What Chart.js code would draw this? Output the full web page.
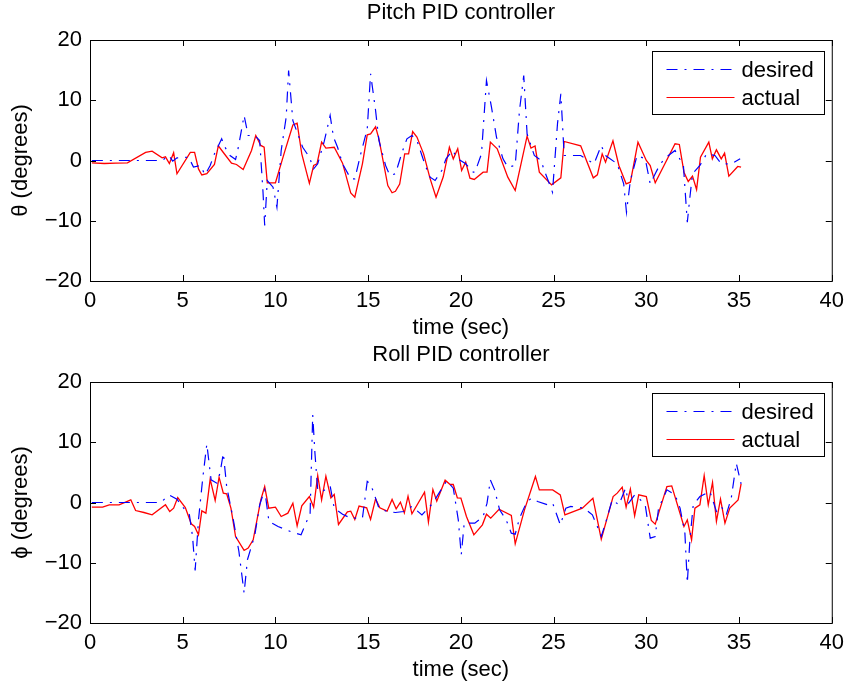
<!DOCTYPE html>
<html>
<head>
<meta charset="utf-8">
<script src="https://cdn.jsdelivr.net/npm/chart.js@4.4.1/dist/chart.umd.min.js"></script>
<style>
body{margin:0;background:#fff;}
.box{position:relative;width:851px;}
#wrapTop{height:342px;}
#wrapBottom{height:343px;}
</style>
</head>
<body>
<div class="box" id="wrapTop"><canvas id="pitchChart"></canvas></div>
<div class="box" id="wrapBottom"><canvas id="rollChart"></canvas></div>
<script>
// axis ticks
const xTicks=[0,5,10,15,20,25,30,35,40];
const yTicks=[-20,-10,0,10,20];

// pitch, desired
const pitchDesT=[0.1,0.77,3.53,3.89,4.25,4.46,4.69,5.32,5.58,5.94,6.21,6.48,6.71,7.1,7.28,7.55,7.85,8.0,8.31,8.53,8.89,9.15,9.33,9.42,9.56,9.87,10.08,10.31,10.58,10.71,10.94,11.47,11.83,12.06,12.28,12.63,12.95,13.13,13.35,13.62,14.06,14.28,14.6,14.95,15.13,15.4,15.58,15.94,16.17,16.47,16.83,17.09,17.36,17.63,17.9,18.08,18.34,18.61,18.97,19.2,19.56,19.83,20.26,20.67,20.76,21.11,21.38,21.65,21.92,22.27,22.53,22.93,23.16,23.39,23.57,23.96,24.32,24.5,24.94,25.21,25.39,25.57,26.46,27.18,27.57,27.8,28.43,28.78,28.93,29.14,29.5,29.94,30.21,30.48,30.75,31.19,31.55,32.0,32.21,32.35,32.49,32.89,33.25,33.7,34.04,34.58,35.06];
const pitchDesV=[0,0,0,0,0.83,-0.1,0.44,0.55,-1.1,-0.83,-2.38,-0.83,1.1,3.6,2.2,0.83,0.17,2.2,7.47,4.15,4.15,3.32,-5.26,-10.8,-3.32,-4.43,-7.75,1.66,7.2,14.95,6.6,2.2,0.55,-1.38,-0.55,3.16,7.47,3.88,2.2,-0.55,-3.04,-3.04,1.1,5.2,14.4,8.3,3.32,-0.83,-2.49,-2.21,1.38,3.6,4.15,3.32,0.83,-0.83,-2.77,-3.32,-1.66,0.28,1.66,0.28,-0.55,-1.94,-1.94,1.1,13.29,8.86,3.88,0.28,-1.1,-0.83,8.3,14.1,4.43,0.83,0,-1.66,-5.26,6.1,11.07,0.83,0.83,-0.55,2.49,0.83,-0.55,-3.87,-8.58,-3.32,0.83,0.28,-3.87,-2.21,-0.55,0.83,1.66,-0.83,-10.25,-6.1,-2.21,-0.83,1.1,0.83,-0.55,-0.55,0.28];

// pitch, actual
const pitchActT=[0.1,0.77,1.39,2.02,3.0,3.35,3.89,4.07,4.28,4.51,4.69,5.41,5.64,5.85,6.03,6.3,6.71,6.92,7.19,7.63,7.9,8.26,8.71,8.94,9.21,9.39,9.56,10.0,10.49,10.94,11.17,11.42,11.83,12.06,12.24,12.49,12.72,13.17,13.62,14.06,14.28,14.69,14.95,15.13,15.4,15.58,16.06,16.29,16.47,16.7,16.97,17.18,17.4,17.63,17.99,18.34,18.66,19.05,19.38,19.59,19.83,20.04,20.26,20.49,20.72,21.2,21.41,21.59,21.96,22.53,22.93,23.57,23.78,24.0,24.23,24.89,25.39,25.57,26.46,27.14,27.36,27.62,27.8,28.2,28.52,28.91,29.14,29.55,30.0,30.21,30.48,31.55,31.78,32.03,32.26,32.49,32.71,32.92,33.37,33.56,33.78,34.04,34.22,34.45,34.93,35.11];
const pitchActV=[-0.4,-0.5,-0.44,-0.4,1.33,1.55,0.44,0.6,-0.5,1.3,-2.2,1.36,1.36,-1.4,-2.4,-2.2,-0.66,2.44,1.33,-0.44,-0.66,-1.5,1.66,4.15,2.5,2.2,-3.7,-3.7,1.4,5.9,6.2,1.1,-3.8,-0.83,-0.55,3.05,2.05,2.2,-0.44,-5.4,-6.1,-0.55,4.27,4.4,5.6,3.6,-4.15,-5.35,-5.1,-3.9,1.1,1.1,4.8,3.9,1.1,-3.0,-6.1,-2.7,2.2,0.27,1.94,-1.66,-0.28,-2.93,-3.15,-1.94,-1.94,3.05,1.94,-2.76,-4.98,4.04,2.05,2.4,-1.94,-4.04,-2.88,3.16,2.44,-2.88,-2.38,1.1,-0.28,3.27,-0.83,-3.87,-3.6,3.05,0,-0.83,-3.71,2.77,2.66,-1.94,-3.49,-2.6,-4.82,0.55,3.05,0.28,1.77,0.28,1.22,-2.6,-0.99,-1.1];

// roll, desired
const rollDesT=[0.1,3.8,4.28,4.69,5.0,5.36,5.53,5.67,5.85,6.08,6.3,6.53,6.84,7.01,7.19,7.37,7.73,8.03,8.31,8.49,8.89,9.15,9.42,9.65,10.14,10.94,11.38,11.87,12.01,12.13,12.28,12.54,12.95,13.17,13.62,14.06,14.69,14.95,15.13,15.31,15.58,16.02,16.47,16.92,17.36,17.9,18.49,18.76,19.24,19.59,19.86,20.02,20.18,20.75,21.2,21.41,21.59,21.82,22.09,22.44,22.72,22.93,23.16,23.52,23.79,24.14,24.68,24.95,25.36,25.66,25.93,26.64,27.09,27.36,27.57,27.8,28.16,28.52,28.88,29.05,29.37,29.59,29.94,30.21,30.48,30.66,31.11,31.55,31.82,32.08,32.21,32.35,32.53,32.89,33.25,33.43,33.78,34.04,34.31,34.58,34.85,35.11];
const rollDesV=[0,0,1.22,0.55,-0.77,-2.05,-5.64,-11.28,-2.87,4.04,9.7,3.76,3.21,4.87,8.19,2.65,-2.87,-8.13,-15.03,-9.5,-5.36,-0.39,2.1,-3.15,-3.98,-4.98,-5.36,-1.77,14.54,8.19,2.1,1.83,2.76,-0.94,-1.94,-2.6,-2.6,3.49,3.04,1.55,-0.94,-1.49,-1.66,-1.49,-0.66,-2.05,-0.11,1.27,3.6,2.38,-2.87,-8.68,-3.43,-3.43,-2.32,-0.11,3.76,2.1,-1.22,-2.87,-5.09,-5.26,-2.6,-0.11,0.72,0.17,-0.39,-0.11,-3.71,-0.94,-0.66,-0.94,-2.05,-3.98,-5.64,-3.43,0.44,-0.39,2.38,-0.11,1.27,0.72,-0.39,-5.92,-5.64,-0.94,2.1,1.27,-0.94,-5.09,-13.38,-6.19,-0.39,0.99,1.55,1.83,-1.49,-0.66,-2.05,0.72,6.52,3.1];

// roll, actual
const rollActT=[0.1,0.68,1.04,1.57,2.2,2.46,2.91,3.35,4.07,4.3,4.51,4.73,5.14,5.46,5.64,5.85,6.03,6.25,6.48,6.75,6.96,7.19,7.37,7.6,7.85,8.31,8.53,8.8,9.21,9.42,9.64,10.0,10.31,10.67,10.94,11.17,11.42,11.83,12.06,12.28,12.49,12.72,12.99,13.17,13.4,13.88,14.06,14.28,14.51,14.92,15.13,15.4,15.63,16.02,16.29,16.51,16.74,16.95,17.15,17.36,18.04,18.25,18.49,18.7,19.15,19.42,19.59,19.81,20.0,20.3,20.7,21.16,21.38,21.61,22.06,22.72,22.93,23.43,24.02,24.23,24.95,25.36,25.61,26.55,27.12,27.57,28.21,28.43,28.7,28.91,29.14,29.37,29.59,30.0,30.27,30.48,31.11,31.37,32.03,32.21,32.44,32.62,32.89,33.12,33.34,33.57,33.78,34.0,34.24,34.5,34.95,35.11];
const rollActV=[-0.77,-0.77,-0.38,-0.38,0.44,-1.33,-1.66,-2.05,-0.38,-1.49,-0.94,0.83,-0.83,-3.54,-3.98,-5.36,-1.38,-1.77,3.88,0.33,4.2,1.55,1.44,-0.94,-5.64,-7.96,-7.57,-6.19,0.44,2.65,-0.94,-0.77,-2.32,-1.77,-0.11,-3.87,-0.55,1.0,-0.77,4.48,0.44,4.37,0.77,1.33,-3.65,-1.55,-1.44,-2.82,-0.6,-0.88,-2.82,0.6,-0.88,-1.44,0.5,-1.05,0.06,-1.72,1.05,-1.88,1.72,-3.26,2.16,0.22,3.71,2.99,2.99,0.77,0.72,-2.32,-5.37,-3.71,-1.94,-2.6,-1.11,-2.16,-6.86,-1.22,4.31,2.1,2.1,1.27,-2.05,-0.94,0.72,-6.08,0.99,1.55,2.54,-0.77,2.21,-2.21,1.27,0.99,-2.99,-3.59,2.65,2.76,-3.98,-2.88,-6.19,-0.94,-0.38,4.48,-0.38,3.32,-3.15,0.55,-3.43,-0.94,0.44,3.1];

const FONT='"Liberation Sans", Arial, Helvetica, sans-serif';
const PLOT_LEFT=90, PLOT_RIGHT=836, PLOT_BOTTOM=281;

function pts(t,v){return t.map((x,i)=>({x:x,y:v[i]}));}

// frame, inward ticks on all four sides, legend inside the plot
const framePlugin={
  id:'frame',
  afterDraw(chart){
    const ctx=chart.ctx, a=chart.chartArea, xs=chart.scales.x, ys=chart.scales.y;
    ctx.save();
    ctx.strokeStyle='#000';ctx.lineWidth=1;
    ctx.strokeRect(a.left+0.5,a.top+0.5,a.right-a.left,a.bottom-a.top);
    ctx.beginPath();
    xTicks.forEach(v=>{const p=Math.round(xs.getPixelForValue(v))+0.5;
      ctx.moveTo(p,a.bottom);ctx.lineTo(p,a.bottom-6);ctx.moveTo(p,a.top);ctx.lineTo(p,a.top+6);});
    yTicks.forEach(v=>{const p=Math.round(ys.getPixelForValue(v))+0.5;
      ctx.moveTo(a.left,p);ctx.lineTo(a.left+6,p);ctx.moveTo(a.right,p);ctx.lineTo(a.right-6,p);});
    ctx.stroke();
    // legend
    const lx=652.5, ly=51.5, lw=172, lh=63;
    ctx.fillStyle='#fff';ctx.fillRect(lx,ly,lw,lh);
    ctx.strokeRect(lx,ly,lw,lh);
    ctx.font='22px '+FONT;ctx.textBaseline='alphabetic';ctx.textAlign='left';
    chart.data.datasets.forEach((ds,i)=>{
      const yy=ly+18+i*28;
      ctx.beginPath();ctx.strokeStyle=ds.borderColor;ctx.lineWidth=1;
      ctx.setLineDash(ds.borderDash||[]);
      ctx.moveTo(lx+14,yy);ctx.lineTo(lx+82,yy);ctx.stroke();
      ctx.setLineDash([]);
      ctx.fillStyle='#000';
      ctx.fillText(ds.label,lx+89,yy+7.5);
    });
    ctx.restore();
  }
};

function makeChart(id,title,yLabel,dT,dV,aT,aV,axisH){
  return new Chart(document.getElementById(id),{
    type:'line',
    data:{datasets:[
      {label:'desired',data:pts(dT,dV),borderColor:'#0000ff',borderWidth:1.2,borderDash:[11,7,2,7],pointRadius:0,tension:0},
      {label:'actual',data:pts(aT,aV),borderColor:'#ff0000',borderWidth:1.3,pointRadius:0,tension:0}
    ]},
    options:{
      responsive:true,maintainAspectRatio:false,animation:false,
      layout:{padding:{left:0,right:851-PLOT_RIGHT,top:0,bottom:0}},
      plugins:{
        legend:{display:false},tooltip:{enabled:false},
        title:{display:true,text:title,fullSize:false,color:'#000',
          font:{family:FONT,size:22,weight:'normal'},padding:{top:0,bottom:13.6}}
      },
      scales:{
        x:{type:'linear',min:0,max:40,
          afterFit:s=>{s.height=axisH;},
          grid:{display:false,drawTicks:false},border:{display:false},
          ticks:{stepSize:5,padding:7,color:'#000',font:{family:FONT,size:22},maxRotation:0},
          title:{display:true,text:'time (sec)',color:'#000',font:{family:FONT,size:22},padding:{top:0,bottom:axisH-60}}},
        y:{type:'linear',min:-20,max:20,
          afterFit:s=>{s.width=PLOT_LEFT;},
          grid:{display:false,drawTicks:false},border:{display:false},
          ticks:{stepSize:10,padding:8,color:'#000',font:{family:FONT,size:22},
            callback:v=>String(v).replace('-','\u2212')},
          title:{display:true,text:yLabel,color:'#000',font:{family:FONT,size:22},padding:{top:8,bottom:0}}}
      }
    },
    plugins:[framePlugin]
  });
}

makeChart('pitchChart','Pitch PID controller','\u03b8 (degrees)',pitchDesT,pitchDesV,pitchActT,pitchActV,342-PLOT_BOTTOM);
makeChart('rollChart','Roll PID controller','\u03d5 (degrees)',rollDesT,rollDesV,rollActT,rollActV,343-PLOT_BOTTOM);
</script>
</body>
</html>
